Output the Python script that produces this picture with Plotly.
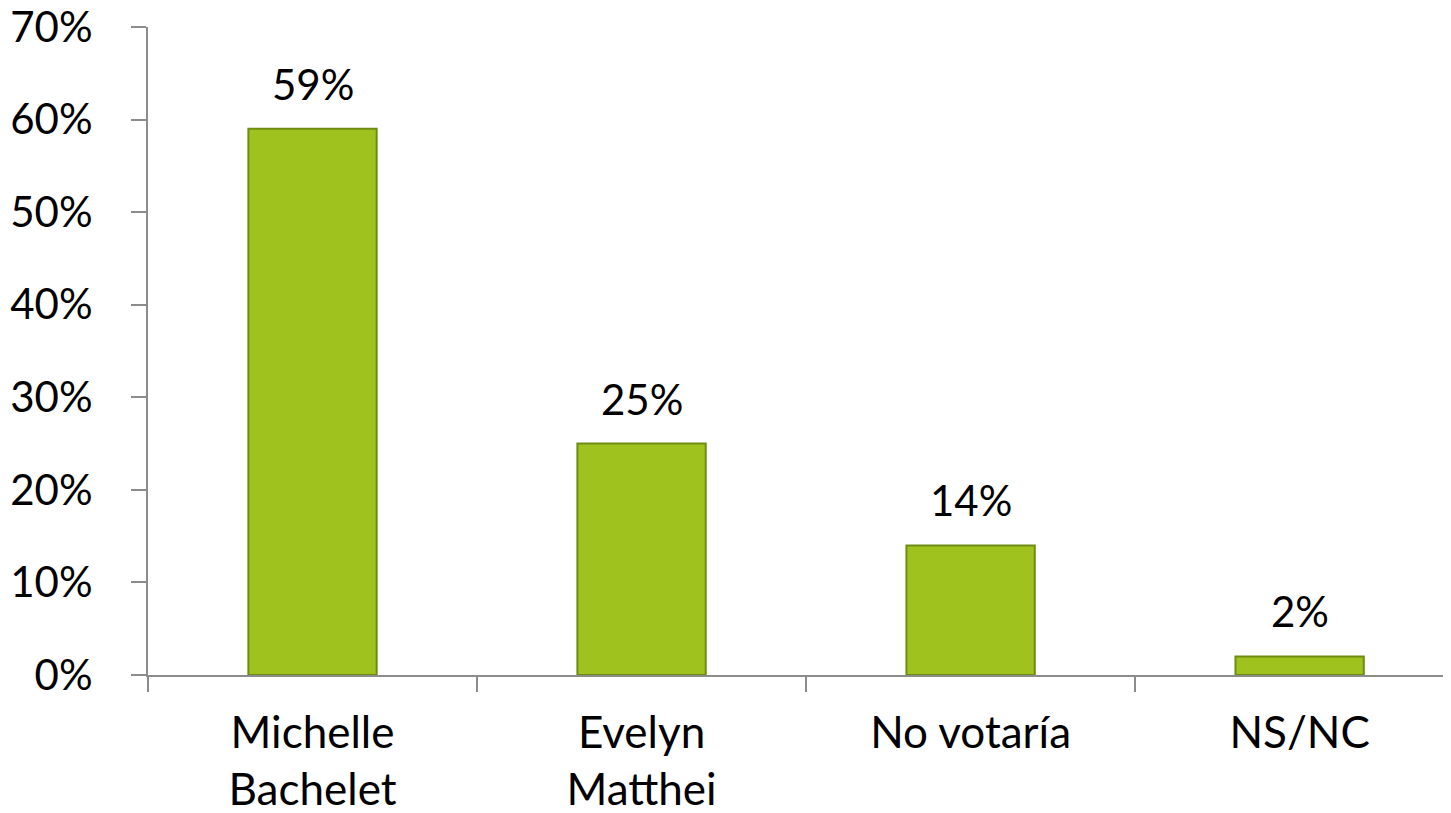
import plotly.graph_objects as go

categories = ["Michelle<br>Bachelet", "Evelyn<br>Matthei", "No votaría", "NS/NC"]
values = [0.59, 0.25, 0.14, 0.02]
value_labels = ["59%", "25%", "14%", "2%"]
y_ticks = [0, 0.1, 0.2, 0.3, 0.4, 0.5, 0.6, 0.7]
y_tick_labels = ["0%", "10%", "20%", "30%", "40%", "50%", "60%", "70%"]

bar_color = "#A0C21E"
edge_color = "#6E8C12"
axis_color = "#8C8C8C"
font_family = "Lato, 'DejaVu Sans', sans-serif"

fig = go.Figure()

fig.add_trace(go.Bar(
    x=categories,
    y=values,
    width=0.39,
    marker=dict(color=bar_color, line=dict(color=edge_color, width=2)),
    hoverinfo="skip",
))

# value labels above the bars
for cat, val, lab in zip(categories, values, value_labels):
    fig.add_annotation(x=cat, y=val, text=lab, showarrow=False,
                       yanchor="bottom", yshift=18,
                       font=dict(family=font_family, size=42, color="#000000"))

# page body has an 8px default margin, so the figure is sized to fit the rest
fig.update_layout(
    width=1443,
    height=805,
    margin=dict(l=140, r=0, t=19, b=138, autoexpand=False),
    paper_bgcolor="white",
    plot_bgcolor="white",
    showlegend=False,
    font=dict(family=font_family, color="#000000"),
)

fig.update_xaxes(
    type="category",
    range=[-0.5, 3.46],
    automargin=False,
    showline=True,
    linecolor=axis_color,
    linewidth=2,
    ticks="outside",
    tickson="boundaries",
    ticklen=15,
    tickwidth=2,
    tickcolor=axis_color,
    ticklabelstandoff=18,
    ticklabeloverflow="allow",
    tickfont=dict(family=font_family, size=44, color="#000000"),
    showgrid=False,
    zeroline=False,
)

fig.update_yaxes(
    range=[0, 0.7],
    automargin=False,
    tickvals=y_ticks,
    ticktext=y_tick_labels,
    showline=True,
    linecolor=axis_color,
    linewidth=2,
    ticks="outside",
    ticklen=15,
    tickwidth=2,
    tickcolor=axis_color,
    ticklabelstandoff=30,
    ticklabeloverflow="allow",
    tickfont=dict(family=font_family, size=42, color="#000000"),
    showgrid=False,
    zeroline=False,
)

fig.write_html("out.html")
